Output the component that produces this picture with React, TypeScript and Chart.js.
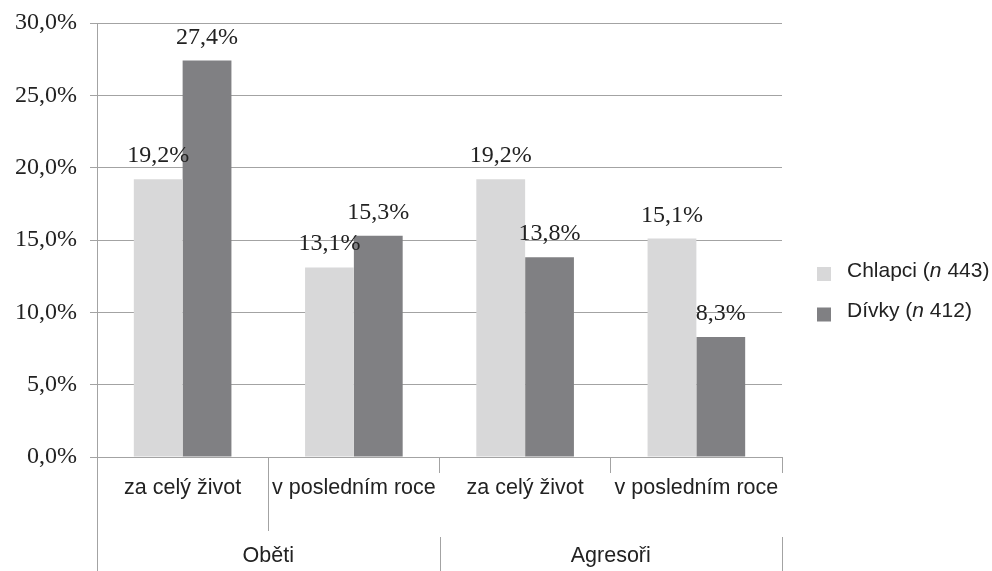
import React, { useEffect, useRef } from "react";
import { Chart, registerables } from "chart.js";

Chart.register(...registerables);

const categories = ["za celý život", "v posledním roce", "za celý život", "v posledním roce"];
const groups = ["Oběti", "Agresoři"];
const seriesNames = ["Chlapci", "Dívky"];
const seriesN = [443, 412];
const boysValues = [19.2, 13.1, 19.2, 15.1];
const girlsValues = [27.4, 15.3, 13.8, 8.3];
const seriesColors = ["#d8d8d9", "#808083"];
const yTicks = [0, 5, 10, 15, 20, 25, 30];

const SERIF = "'Liberation Serif', 'Times New Roman', serif";
const SANS = "'Liberation Sans', Arial, sans-serif";
const fmt = (v: number) => v.toFixed(1).replace(".", ",") + "%";

const dataLabelPlugin = {
  id: "dataLabels",
  afterDatasetsDraw(chart: any) {
    const ctx = chart.ctx;
    ctx.save();
    ctx.font = `24px ${SERIF}`;
    ctx.fillStyle = "#222";
    ctx.textAlign = "center";
    ctx.textBaseline = "alphabetic";
    chart.data.datasets.forEach((ds: any, di: number) => {
      const meta = chart.getDatasetMeta(di);
      meta.data.forEach((bar: any, i: number) => {
        ctx.fillText(fmt(ds.data[i]), bar.x, bar.y - 17);
      });
    });
    ctx.restore();
  },
};

const axisExtrasPlugin = {
  id: "axisExtras",
  afterDraw(chart: any) {
    const ctx = chart.ctx;
    const x = chart.scales.x;
    const x2 = chart.scales.x2;
    const half = (x.getPixelForValue(1) - x.getPixelForValue(0)) / 2;
    const b = (i: number) => x.getPixelForValue(i) - half;
    ctx.save();
    ctx.strokeStyle = "#a3a3a3";
    ctx.lineWidth = 1;
    const line = (px: number, y1: number, y2: number) => {
      const xx = Math.round(px) + 0.5;
      ctx.beginPath();
      ctx.moveTo(xx, y1);
      ctx.lineTo(xx, y2);
      ctx.stroke();
    };
    line(x.left, x.top, chart.height);
    line(b(1), x.top, x.bottom - 1);
    line(b(2), x2.top + 5, chart.height);
    line(x.right, x2.top + 5, chart.height);
    ctx.restore();
  },
};

const legendPlugin = {
  id: "customLegend",
  afterDraw(chart: any) {
    const ctx = chart.ctx;
    const area = chart.chartArea;
    ctx.save();
    ctx.textBaseline = "middle";
    ctx.textAlign = "left";
    seriesNames.forEach((name, i) => {
      const sx = area.right + 35;
      const cy = 274 + i * 40.5;
      ctx.fillStyle = seriesColors[i];
      ctx.fillRect(sx, cy - 7, 14, 14);
      ctx.fillStyle = "#222";
      let tx = sx + 30;
      const parts: [string, boolean][] = [
        [name + " (", false],
        ["n", true],
        [" " + seriesN[i] + ")", false],
      ];
      parts.forEach(([t, it]) => {
        ctx.font = `${it ? "italic " : ""}21px ${SANS}`;
        ctx.fillText(t, tx, cy - 3);
        tx += ctx.measureText(t).width;
      });
    });
    ctx.restore();
  },
};

export default function App() {
  const ref = useRef<HTMLCanvasElement | null>(null);
  useEffect(() => {
    document.body.style.margin = "0";
    const canvas = ref.current!;
    const chart = new Chart(canvas, {
      type: "bar",
      data: {
        labels: categories,
        datasets: [
          {
            label: seriesNames[0],
            data: boysValues,
            backgroundColor: seriesColors[0],
            categoryPercentage: 0.57,
            barPercentage: 1,
          },
          {
            label: seriesNames[1],
            data: girlsValues,
            backgroundColor: seriesColors[1],
            categoryPercentage: 0.57,
            barPercentage: 1,
          },
        ],
      },
      options: {
        animation: false,
        responsive: false,
        devicePixelRatio: 1,
        layout: { padding: { top: 23, right: 210, left: 0, bottom: 0 } },
        plugins: { legend: { display: false }, tooltip: { enabled: false } },
        scales: {
          y: {
            min: 0,
            max: 30,
            afterBuildTicks: (s: any) => {
              s.ticks = yTicks.map((v) => ({ value: v }));
            },
            afterFit: (s: any) => {
              s.width = 97;
              s.paddingTop = 0;
              s.paddingBottom = 0;
            },
            ticks: {
              callback: (v: any) => fmt(Number(v)),
              font: { family: SERIF, size: 24 },
              color: "#222",
              padding: 13,
            },
            grid: { color: "#a3a3a3", tickLength: 7 },
            border: { color: "#a3a3a3" },
          },
          x: {
            position: "bottom",
            afterFit: (s: any) => {
              s.height = 75;
            },
            ticks: {
              font: { family: SANS, size: 21.5 },
              color: "#222",
              padding: 2,
              maxRotation: 0,
              autoSkip: false,
            },
            grid: { drawOnChartArea: false, offset: true, tickLength: 16, color: "#a3a3a3" },
            border: { color: "#a3a3a3" },
          },
          x2: {
            type: "category",
            position: "bottom",
            labels: groups,
            afterFit: (s: any) => {
              s.height = 39;
            },
            ticks: {
              font: { family: SANS, size: 21.5 },
              color: "#222",
              padding: 3,
              maxRotation: 0,
            },
            grid: { display: false },
            border: { display: false },
          },
        },
      },
      plugins: [dataLabelPlugin, axisExtrasPlugin, legendPlugin],
    } as any);
    return () => chart.destroy();
  }, []);
  return (
    <div style={{ width: 992, height: 571, background: "#fff" }}>
      <canvas ref={ref} width={992} height={571} />
    </div>
  );
}
